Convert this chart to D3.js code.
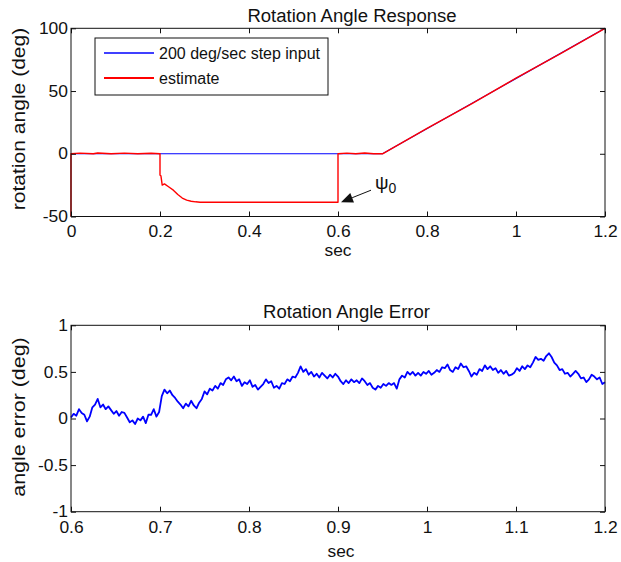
<!DOCTYPE html>
<html>
<head>
<meta charset="utf-8">
<script src="https://cdn.jsdelivr.net/npm/d3@7"></script>
<style>
  html, body { margin: 0; padding: 0; background: #fff; }
  svg { display: block; font-family: "Liberation Sans", Arial, Helvetica, sans-serif; }
</style>
</head>
<body>
<svg id="chart" width="621" height="562"></svg>
<script>
// ---- Rotation angle response (top panel) ----
const stepTime  = [0, 0.7, 1.2];
const stepAngle = [0, 0, 100];

const estTime  = [0, 0, 0.02, 0.05, 0.06, 0.09, 0.12, 0.15, 0.18, 0.2, 0.2, 0.202, 0.205, 0.21, 0.22, 0.23, 0.24, 0.25, 0.26, 0.27, 0.28, 0.29, 0.6, 0.6, 0.62, 0.64, 0.66, 0.68, 0.7, 0.8, 0.9, 1.0, 1.1, 1.2];
const estAngle = [-50, 0, 0.5, 0, 0.6, 0, 0.5, 0, 0.4, 0, -17, -17.5, -25, -24, -26.5, -29, -32.5, -35.3, -37, -37.8, -38.3, -38.6, -38.6, 0, 0.5, 0, 0.6, 0, 0, 20.2, 39.8, 60.3, 79.8, 100];

const topXTicks = [0, 0.2, 0.4, 0.6, 0.8, 1, 1.2];
const topXLabels = ["0", "0.2", "0.4", "0.6", "0.8", "1", "1.2"];
const topYTicks = [-50, 0, 50, 100];
const topYLabels = ["-50", "0", "50", "100"];

// ---- Rotation angle error (bottom panel), sampled every 3 ms from 0.6 s ----
const errStart = 0.6;
const errStep = 0.003;
const errValues = [
  0.01, 0.05, 0.03, 0.10, 0.06, 0.04, -0.03, 0.02, 0.12, 0.15,
  0.21, 0.12, 0.15, 0.10, 0.13, 0.09, 0.05, 0.08, 0.03, 0.07,
  0.06, 0.01, -0.04, -0.02, -0.06, 0.00, -0.02, 0.02, -0.05, 0.04,
  0.04, 0.10, 0.02, 0.07, 0.24, 0.31, 0.27, 0.30, 0.25, 0.22,
  0.18, 0.15, 0.11, 0.16, 0.13, 0.19, 0.14, 0.11, 0.17, 0.21,
  0.29, 0.26, 0.32, 0.30, 0.35, 0.32, 0.38, 0.36, 0.42, 0.44,
  0.41, 0.45, 0.40, 0.42, 0.35, 0.39, 0.37, 0.41, 0.34, 0.36,
  0.31, 0.34, 0.37, 0.42, 0.38, 0.40, 0.33, 0.35, 0.32, 0.38,
  0.37, 0.42, 0.40, 0.45, 0.44, 0.49, 0.56, 0.50, 0.53, 0.47,
  0.50, 0.45, 0.48, 0.44, 0.49, 0.46, 0.43, 0.47, 0.44, 0.48,
  0.45, 0.40, 0.37, 0.41, 0.38, 0.42, 0.39, 0.41, 0.38, 0.43,
  0.40, 0.36, 0.38, 0.33, 0.31, 0.35, 0.33, 0.37, 0.35, 0.38,
  0.36, 0.38, 0.32, 0.42, 0.46, 0.44, 0.50, 0.47, 0.50, 0.46,
  0.49, 0.46, 0.50, 0.48, 0.51, 0.47, 0.49, 0.52, 0.50, 0.55,
  0.54, 0.58, 0.52, 0.50, 0.55, 0.53, 0.59, 0.55, 0.56, 0.51,
  0.45, 0.49, 0.47, 0.53, 0.51, 0.57, 0.53, 0.56, 0.52, 0.54,
  0.49, 0.52, 0.48, 0.51, 0.46, 0.47, 0.49, 0.54, 0.51, 0.56,
  0.53, 0.57, 0.55, 0.60, 0.66, 0.63, 0.64, 0.62, 0.67, 0.70,
  0.66, 0.60, 0.57, 0.52, 0.53, 0.48, 0.49, 0.45, 0.48, 0.51,
  0.48, 0.43, 0.44, 0.39, 0.42, 0.47, 0.45, 0.42, 0.44, 0.37,
  0.39
];

const botXTicks = [0.6, 0.7, 0.8, 0.9, 1, 1.1, 1.2];
const botXLabels = ["0.6", "0.7", "0.8", "0.9", "1", "1.1", "1.2"];
const botYTicks = [-1, -0.5, 0, 0.5, 1];
const botYLabels = ["-1", "-0.5", "0", "0.5", "1"];

const legendLabels = ["200 deg/sec step input", "estimate"];
const BLUE = "#0000ff", RED = "#ff0000", INK = "#111";
const TICK_FONT = 16, TICK_SX = 1.09;

const svg = d3.select("#chart");

// Text helper: horizontal stretch sx, optional rotation
function label(g, str, x, y, opts) {
  const o = Object.assign({ size: 17, anchor: "middle", sx: 1.0, rot: 0 }, opts || {});
  return g.append("text")
    .attr("transform", `translate(${x},${y})` + (o.rot ? ` rotate(${o.rot})` : "") + ` scale(${o.sx},1)`)
    .attr("text-anchor", o.anchor)
    .attr("font-size", o.size)
    .attr("fill", INK)
    .text(str);
}

// Box axes with inward ticks on all four sides
function drawFrame(g, x, y, xt, xl, yt, yl) {
  const tick = 5;
  const fmt = (labels, ticks) => (d) => labels[ticks.indexOf(d)];
  const [x0, x1] = x.range(), [y0, y1] = y.range();

  const bottom = g.append("g").attr("transform", `translate(0,${y0})`)
    .call(d3.axisBottom(x).tickValues(xt).tickFormat(fmt(xl, xt)).tickSizeInner(-tick).tickSizeOuter(0).tickPadding(9.5));
  const top = g.append("g").attr("transform", `translate(0,${y1})`)
    .call(d3.axisTop(x).tickValues(xt).tickFormat("").tickSizeInner(-tick).tickSizeOuter(0));
  const left = g.append("g").attr("transform", `translate(${x0},0)`)
    .call(d3.axisLeft(y).tickValues(yt).tickFormat(fmt(yl, yt)).tickSizeInner(-tick).tickSizeOuter(0).tickPadding(3));
  const right = g.append("g").attr("transform", `translate(${x1},0)`)
    .call(d3.axisRight(y).tickValues(yt).tickFormat("").tickSizeInner(-tick).tickSizeOuter(0));

  [bottom, top, left, right].forEach(a => {
    a.select(".domain").remove();
    a.selectAll(".tick line").attr("stroke", INK);
    a.selectAll("text")
      .attr("font-size", TICK_FONT)
      .attr("fill", INK)
      .attr("transform", `scale(${TICK_SX},1)`);
  });
  left.selectAll("text").attr("x", -3 / TICK_SX);

  g.append("rect")
    .attr("x", x0).attr("y", y1)
    .attr("width", x1 - x0).attr("height", y0 - y1)
    .attr("fill", "none").attr("stroke", INK).attr("stroke-width", 1);
}

// ---------------- Top panel ----------------
const xTop = d3.scaleLinear().domain([0, 1.2]).range([71, 605]);
const yTop = d3.scaleLinear().domain([-50, 100]).range([216.5, 28.3]);
const gTop = svg.append("g");

const lineTop = d3.line().x(d => xTop(d[0])).y(d => yTop(d[1]));
gTop.append("path")
  .datum(stepTime.map((t, i) => [t, stepAngle[i]]))
  .attr("d", lineTop).attr("fill", "none").attr("stroke", BLUE).attr("stroke-width", 1.2);
gTop.append("path")
  .datum(estTime.map((t, i) => [t, estAngle[i]]))
  .attr("d", lineTop).attr("fill", "none").attr("stroke", RED).attr("stroke-width", 1.4)
  .attr("stroke-linejoin", "round");

drawFrame(gTop, xTop, yTop, topXTicks, topXLabels, topYTicks, topYLabels);

label(gTop, "Rotation Angle Response", 352, 21.5, { size: 18, sx: 1.03 });
label(gTop, "sec", 338, 256, { size: 16.5, sx: 1.05 });
label(gTop, "rotation angle (deg)", 25, 119, { size: 18, sx: 1.17, rot: -90 });

// Legend
const leg = gTop.append("g");
leg.append("rect").attr("x", 95).attr("y", 38).attr("width", 233).attr("height", 57)
  .attr("fill", "#fff").attr("stroke", INK).attr("stroke-width", 1);
[BLUE, RED].forEach((c, i) => {
  const yy = 53 + i * 25;
  leg.append("line").attr("x1", 104).attr("x2", 154).attr("y1", yy).attr("y2", yy)
    .attr("stroke", c).attr("stroke-width", i ? 1.8 : 1.3);
  label(leg, legendLabels[i], 159, yy + 5.5, { size: 16, anchor: "start" });
});

// psi_0 annotation: arrow pointing at the reset instant
const tip = [xTop(0.6) + 3, yTop(-38.6)];
const tail = [tip[0] + 30, tip[1] - 12];
const ang = Math.atan2(tail[1] - tip[1], tail[0] - tip[0]);
const hl = 12, hw = 5;
const base = [tip[0] + hl * Math.cos(ang), tip[1] + hl * Math.sin(ang)];
gTop.append("line").attr("x1", tail[0]).attr("y1", tail[1]).attr("x2", base[0]).attr("y2", base[1])
  .attr("stroke", INK).attr("stroke-width", 1);
gTop.append("path")
  .attr("d", `M${tip[0]},${tip[1]}` +
    `L${base[0] - hw * Math.sin(ang)},${base[1] + hw * Math.cos(ang)}` +
    `L${base[0] + hw * Math.sin(ang)},${base[1] - hw * Math.cos(ang)}Z`)
  .attr("fill", INK);
const psi = gTop.append("text").attr("x", tail[0] + 4).attr("y", tail[1] - 1)
  .attr("font-size", 19).attr("fill", INK);
psi.append("tspan").text("ψ");
psi.append("tspan").attr("font-size", 14).attr("dy", 4).text("0");

// ---------------- Bottom panel ----------------
const xBot = d3.scaleLinear().domain([0.6, 1.2]).range([71, 605]);
const yBot = d3.scaleLinear().domain([-1, 1]).range([511.7, 325.3]);
const gBot = svg.append("g");

gBot.append("path")
  .datum(errValues.map((v, i) => [errStart + i * errStep, v]))
  .attr("d", d3.line().x(d => xBot(d[0])).y(d => yBot(d[1])))
  .attr("fill", "none").attr("stroke", BLUE).attr("stroke-width", 1.8)
  .attr("stroke-linejoin", "round");

drawFrame(gBot, xBot, yBot, botXTicks, botXLabels, botYTicks, botYLabels);

label(gBot, "Rotation Angle Error", 346.5, 318, { size: 18, sx: 1.03 });
label(gBot, "sec", 341, 556.5, { size: 16.5, sx: 1.05 });
label(gBot, "angle error (deg)", 25, 417, { size: 18, sx: 1.19, rot: -90 });
</script>
</body>
</html>
